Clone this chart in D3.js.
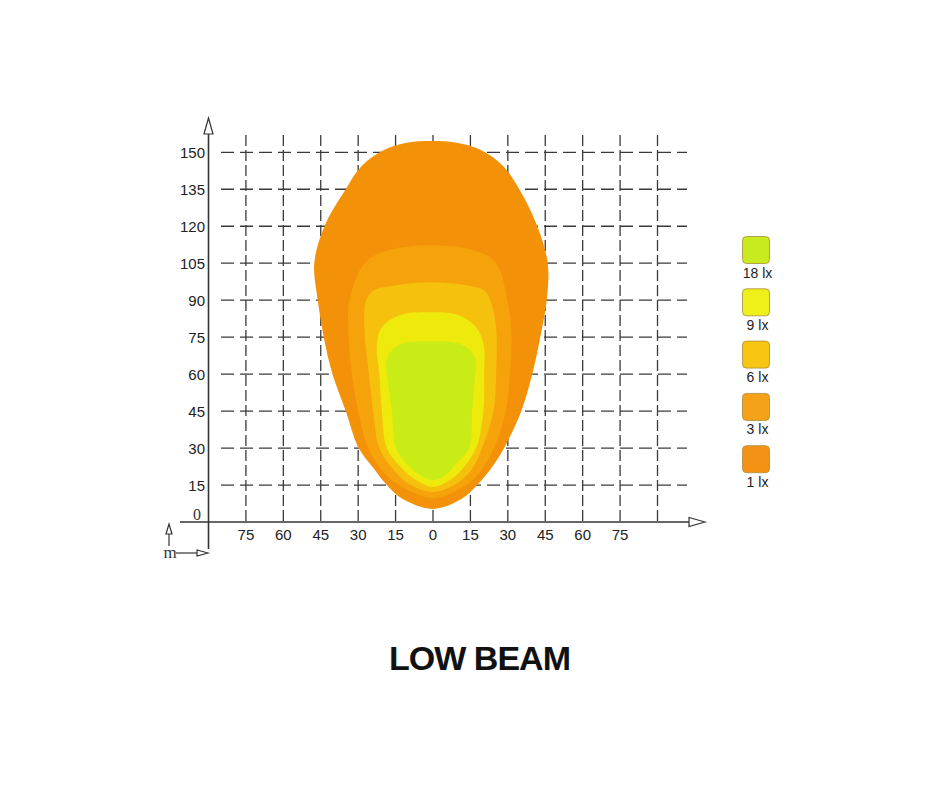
<!DOCTYPE html>
<html>
<head>
<meta charset="utf-8">
<script src="https://cdn.jsdelivr.net/npm/d3@7"></script>
<style>
  body { margin: 0; background: #fff; }
  svg { display: block; }
  .tick-label { font-family: "Liberation Sans", Arial, sans-serif; font-size: 15px; fill: #222; }
</style>
</head>
<body>
<div id="chart"></div>
<script>
// valores de los ejes (metros)
var xTicks = [-75, -60, -45, -30, -15, 0, 15, 30, 45, 60, 75];
var xGrid = [-75, -60, -45, -30, -15, 0, 15, 30, 45, 60, 75, 90];
var yTicks = [15, 30, 45, 60, 75, 90, 105, 120, 135, 150];

// niveles de iluminancia
var niveles = ["18 lx", "9 lx", "6 lx", "3 lx", "1 lx"];
var coloresZona = ["#c9ec16", "#eeea0c", "#f6c10d", "#f5a20b", "#f39208"];
var coloresLeyenda = ["#c8eb1d", "#eef019", "#f7c512", "#f5a218", "#f39215"];

// contornos [x, y], en metros
var contorno1 = [[-1,154.6],[9,154],[19,151],[28,144.5],[34.6,135],[41.8,120],[46,105],[45.6,90],[43,75],[39.8,60],[35.4,45],[28.5,30],[23.5,22],[17.7,15],[11.7,9.5],[0,5.3],[-12.5,9.5],[-18.5,15],[-24,22],[-29.8,30],[-35,45],[-40.3,60],[-43.8,75],[-46.2,90],[-47.6,105],[-43.5,120],[-35,135],[-28.5,144.5],[-19.5,151],[-10,154]];
var contorno3 = [[-1.6,112.3],[17.3,110],[25.3,105],[29.8,90],[31.5,75],[30.8,60],[29.2,45],[24.5,30],[19.4,21],[13.3,15],[0,9.7],[-13.7,15],[-20.5,21],[-26,30],[-30,45],[-32.5,60],[-33.8,75],[-33.5,90],[-27.5,105],[-18.9,110]];
var contorno6 = [[-2,97.3],[14,96],[20.5,94],[23,90],[25.3,79],[25.3,60],[24.3,45],[19.7,30],[15.3,21],[8.5,15],[0,12.2],[-9,15],[-15.7,21],[-21.5,30],[-24,45],[-25.7,60],[-27.5,79],[-26.8,90],[-23.7,94],[-15,96]];
var contorno9 = [[-2,85.1],[10,84],[17.3,79],[20.3,72],[20.5,60],[20.2,45],[17.3,30],[11.3,21],[6,16.5],[0,14.2],[-6,16.5],[-11.7,21],[-18.5,30],[-20.5,45],[-21.5,60],[-22.5,72],[-20.5,79],[-13,84]];
var contorno18 = [[-2,73.2],[10,72.5],[15.5,69],[17.3,64.5],[16.9,60],[15.7,45],[14.5,30],[9.6,24],[5.5,19.5],[0,17],[-6,19.5],[-10.9,24],[-14.9,30],[-16.5,45],[-18.5,60],[-18.9,64.5],[-17,69],[-12,72.5]];

var contornos = [contorno1, contorno3, contorno6, contorno9, contorno18];
var coloresContorno = [coloresZona[4], coloresZona[3], coloresZona[2], coloresZona[1], coloresZona[0]];

function dibujar() {
    var ancho = 940, altura = 788;

    var svg = d3.select("#chart").append("svg")
        .attr("width", ancho)
        .attr("height", altura);

    // escalas
    var x = d3.scaleLinear().domain([-90, 90]).range([208.5, 657.5]);
    var y = d3.scaleLinear().domain([0, 150]).range([522, 152.3]);

    // rejilla discontinua
    var rejilla = svg.append("g").attr("stroke", "#3a3a3a").attr("stroke-width", 1.3).attr("fill", "none");

    rejilla.selectAll(".vgrid")
        .data(xGrid)
        .enter().append("line")
        .attr("class", "vgrid")
        .attr("x1", function (d) { return x(d); })
        .attr("x2", function (d) { return x(d); })
        .attr("y1", 135)
        .attr("y2", y(0))
        .attr("stroke-dasharray", "11,4");

    rejilla.selectAll(".hgrid")
        .data(yTicks)
        .enter().append("line")
        .attr("class", "hgrid")
        .attr("x1", 221)
        .attr("x2", 687)
        .attr("y1", function (d) { return y(d); })
        .attr("y2", function (d) { return y(d); })
        .attr("stroke-dasharray", "13,6");

    // zonas de luz
    var linea = d3.line()
        .x(function (d) { return x(d[0]); })
        .y(function (d) { return y(d[1]); })
        .curve(d3.curveCatmullRomClosed.alpha(0.5));

    svg.append("g").selectAll("path")
        .data(contornos)
        .enter().append("path")
        .attr("d", linea)
        .attr("fill", function (d, i) { return coloresContorno[i]; });

    // ejes
    var ejes = svg.append("g").attr("stroke", "#333").attr("stroke-width", 1.6).attr("fill", "none");
    ejes.append("line").attr("x1", x(-90)).attr("x2", x(-90)).attr("y1", 134).attr("y2", 549);
    ejes.append("path").attr("d", "M" + x(-90) + ",118 L" + (x(-90) - 4.5) + ",134 L" + (x(-90) + 4.5) + ",134 Z").attr("fill", "#fff").attr("stroke-width", 1.2);
    ejes.append("line").attr("x1", 180).attr("x2", 690).attr("y1", y(0)).attr("y2", y(0));
    ejes.append("path").attr("d", "M705," + y(0) + " L689," + (y(0) - 4.5) + " L689," + (y(0) + 4.5) + " Z").attr("fill", "#fff").attr("stroke-width", 1.2);

    // marca de metros
    var marca = svg.append("g").attr("stroke", "#333").attr("stroke-width", 1.2).attr("fill", "#fff");
    marca.append("line").attr("x1", 169).attr("x2", 169).attr("y1", 533).attr("y2", 546);
    marca.append("path").attr("d", "M169,524 L166,534 L172,534 Z");
    marca.append("line").attr("x1", 176).attr("x2", 198).attr("y1", 553).attr("y2", 553);
    marca.append("path").attr("d", "M208,553 L197,550 L197,556 Z");
    svg.append("text")
        .attr("x", 170).attr("y", 558)
        .attr("text-anchor", "middle")
        .style("font-family", "'Liberation Serif', 'Times New Roman', serif")
        .style("font-size", "17px")
        .attr("fill", "#333")
        .text("m");

    // etiquetas
    svg.append("g").selectAll("text")
        .data(yTicks)
        .enter().append("text")
        .attr("class", "tick-label")
        .attr("x", 205)
        .attr("y", function (d) { return y(d) + 5.5; })
        .attr("text-anchor", "end")
        .text(function (d) { return d; });

    svg.append("text")
        .attr("x", 197).attr("y", 520)
        .attr("text-anchor", "middle")
        .style("font-family", "'Liberation Serif', 'Times New Roman', serif")
        .style("font-size", "16px")
        .attr("fill", "#333")
        .text("0");

    svg.append("g").selectAll("text")
        .data(xTicks)
        .enter().append("text")
        .attr("class", "tick-label")
        .attr("x", function (d) { return x(d); })
        .attr("y", 540)
        .attr("text-anchor", "middle")
        .text(function (d) { return Math.abs(d); });

    // leyenda
    var leyenda = svg.append("g").selectAll("g")
        .data(niveles)
        .enter().append("g")
        .attr("transform", function (d, i) { return "translate(742.5," + (236.5 + i * 52.3) + ")"; });

    leyenda.append("rect")
        .attr("width", 27).attr("height", 27)
        .attr("rx", 4)
        .attr("fill", function (d, i) { return coloresLeyenda[i]; })
        .attr("stroke", "#a88a3c")
        .attr("stroke-width", 0.8);

    leyenda.append("text")
        .attr("x", 15).attr("y", 41)
        .attr("text-anchor", "middle")
        .style("font-family", "'Liberation Sans', Arial, sans-serif")
        .style("font-size", "14px")
        .attr("fill", "#222")
        .text(function (d) { return d; });

    // titulo
    svg.append("text")
        .attr("x", 480).attr("y", 670)
        .attr("text-anchor", "middle")
        .style("font-family", "'Liberation Sans', Arial, sans-serif")
        .style("font-weight", "bold")
        .style("font-size", "34px")
        .attr("fill", "#111")
        .attr("textLength", 182)
        .text("LOW BEAM");
}

dibujar();
</script>
</body>
</html>
